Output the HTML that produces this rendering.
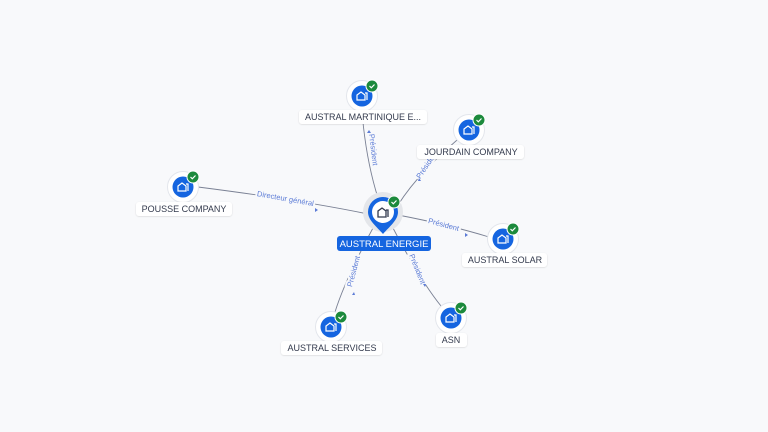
<!DOCTYPE html>
<html><head><meta charset="utf-8"><style>
html,body{margin:0;padding:0;background:#f8f9fb;}
svg{display:block;font-family:"Liberation Sans",sans-serif;}
.lbl{font-size:9px;fill:#333a4d;text-anchor:middle;}
.el{font-size:7.5px;fill:#5b7bd6;text-anchor:middle;paint-order:stroke;stroke:#f8f9fb;stroke-width:4px;}
</style></head><body>
<svg width="768" height="432" viewBox="0 0 768 432">
<defs>
<g id="node">
<circle r="15.5" fill="#fff" stroke="#e3e6ec" stroke-width="1"/>
<circle r="10.5" fill="#1565e0"/>
<path d="M-5,4 V-1 L-1,-4 L3,-1 V4 Z M3,-3 H5 V4" fill="none" stroke="#fff" stroke-width="1.2"/>
<circle cx="10" cy="-10" r="6" fill="#1c8a3c" stroke="#fff" stroke-width="1"/>
<path d="M7.5,-10 L9.3,-8.2 L12.5,-11.5" fill="none" stroke="#fff" stroke-width="1.2"/>
</g>
<filter id="sh" x="-10%" y="-30%" width="120%" height="160%"><feDropShadow dx="0" dy="0.5" stdDeviation="0.8" flood-color="#000" flood-opacity="0.15"/></filter>
</defs>
<g stroke="#7a8194" stroke-width="0.9" fill="none">
<path d="M362,112 Q366,160 378,198"/>
<path d="M469,130 Q420,170 398,205"/>
<path d="M198,187 Q300,200 368,214"/>
<path d="M398,215 Q450,225 489,237"/>
<path d="M373,228 Q345,280 335,312"/>
<path d="M393,228 Q420,280 441,306"/>
</g>
<text class="el" transform="translate(371,150) rotate(83)">Président</text>
<text class="el" transform="translate(429,166) rotate(-56)">Président</text>
<text class="el" transform="translate(285,201) rotate(10)">Directeur général</text>
<text class="el" transform="translate(443,227) rotate(15)">Président</text>
<text class="el" transform="translate(356,272) rotate(-75)">Président</text>
<text class="el" transform="translate(415,270) rotate(68)">Président</text>
<g fill="#5b7bd6">
<path d="M369,130 l2,3 h-4z"/><path d="M418,181 l1,-3 l2,3z"/>
<path d="M318,210 l-3,-2 v4z"/><path d="M468,235 l-3,-2 v4z"/>
<path d="M352,295 l2,-3 l1,3z"/><path d="M425,287 l-2,-3 h3z"/>
</g>
<circle cx="383" cy="212" r="20" fill="#e4e6ea"/>
<path d="M368,212 a15,15 0 1 1 30,0 c0,8 -8,14 -15,22 c-7,-8 -15,-14 -15,-22z" fill="#1565e0"/>
<circle cx="383" cy="212" r="11" fill="#fff"/>
<path d="M378,217 V211 L382,208 L386,211 V217 Z M386,210 H388 V217" fill="none" stroke="#333a4d" stroke-width="1.3"/>
<circle cx="394" cy="202" r="6" fill="#1c8a3c" stroke="#fff" stroke-width="1"/>
<path d="M391.5,202 L393.3,203.8 L396.5,200.5" fill="none" stroke="#fff" stroke-width="1.2"/>
<rect x="337" y="236" width="94" height="15" rx="3" fill="#1565e0"/>
<text x="384" y="247" font-size="9.5" fill="#fff" text-anchor="middle">AUSTRAL ENERGIE</text>
<use href="#node" x="362" y="96"/>
<use href="#node" x="469" y="130"/>
<use href="#node" x="183" y="187"/>
<use href="#node" x="503" y="239"/>
<use href="#node" x="331" y="327"/>
<use href="#node" x="451" y="318"/>
<g fill="#fff" filter="url(#sh)">
<rect x="299" y="110" width="128" height="14" rx="3"/>
<rect x="417" y="145" width="107" height="14" rx="3"/>
<rect x="136" y="202" width="96" height="14" rx="3"/>
<rect x="462" y="253" width="85" height="14" rx="3"/>
<rect x="281" y="341" width="101" height="14" rx="3"/>
<rect x="436" y="333" width="31" height="14" rx="3"/>
</g>
<text class="lbl" x="363" y="120">AUSTRAL MARTINIQUE E...</text>
<text class="lbl" x="471" y="155">JOURDAIN COMPANY</text>
<text class="lbl" x="184" y="212">POUSSE COMPANY</text>
<text class="lbl" x="505" y="263">AUSTRAL SOLAR</text>
<text class="lbl" x="332" y="351">AUSTRAL SERVICES</text>
<text class="lbl" x="451" y="343">ASN</text>
</svg>
</body></html>
